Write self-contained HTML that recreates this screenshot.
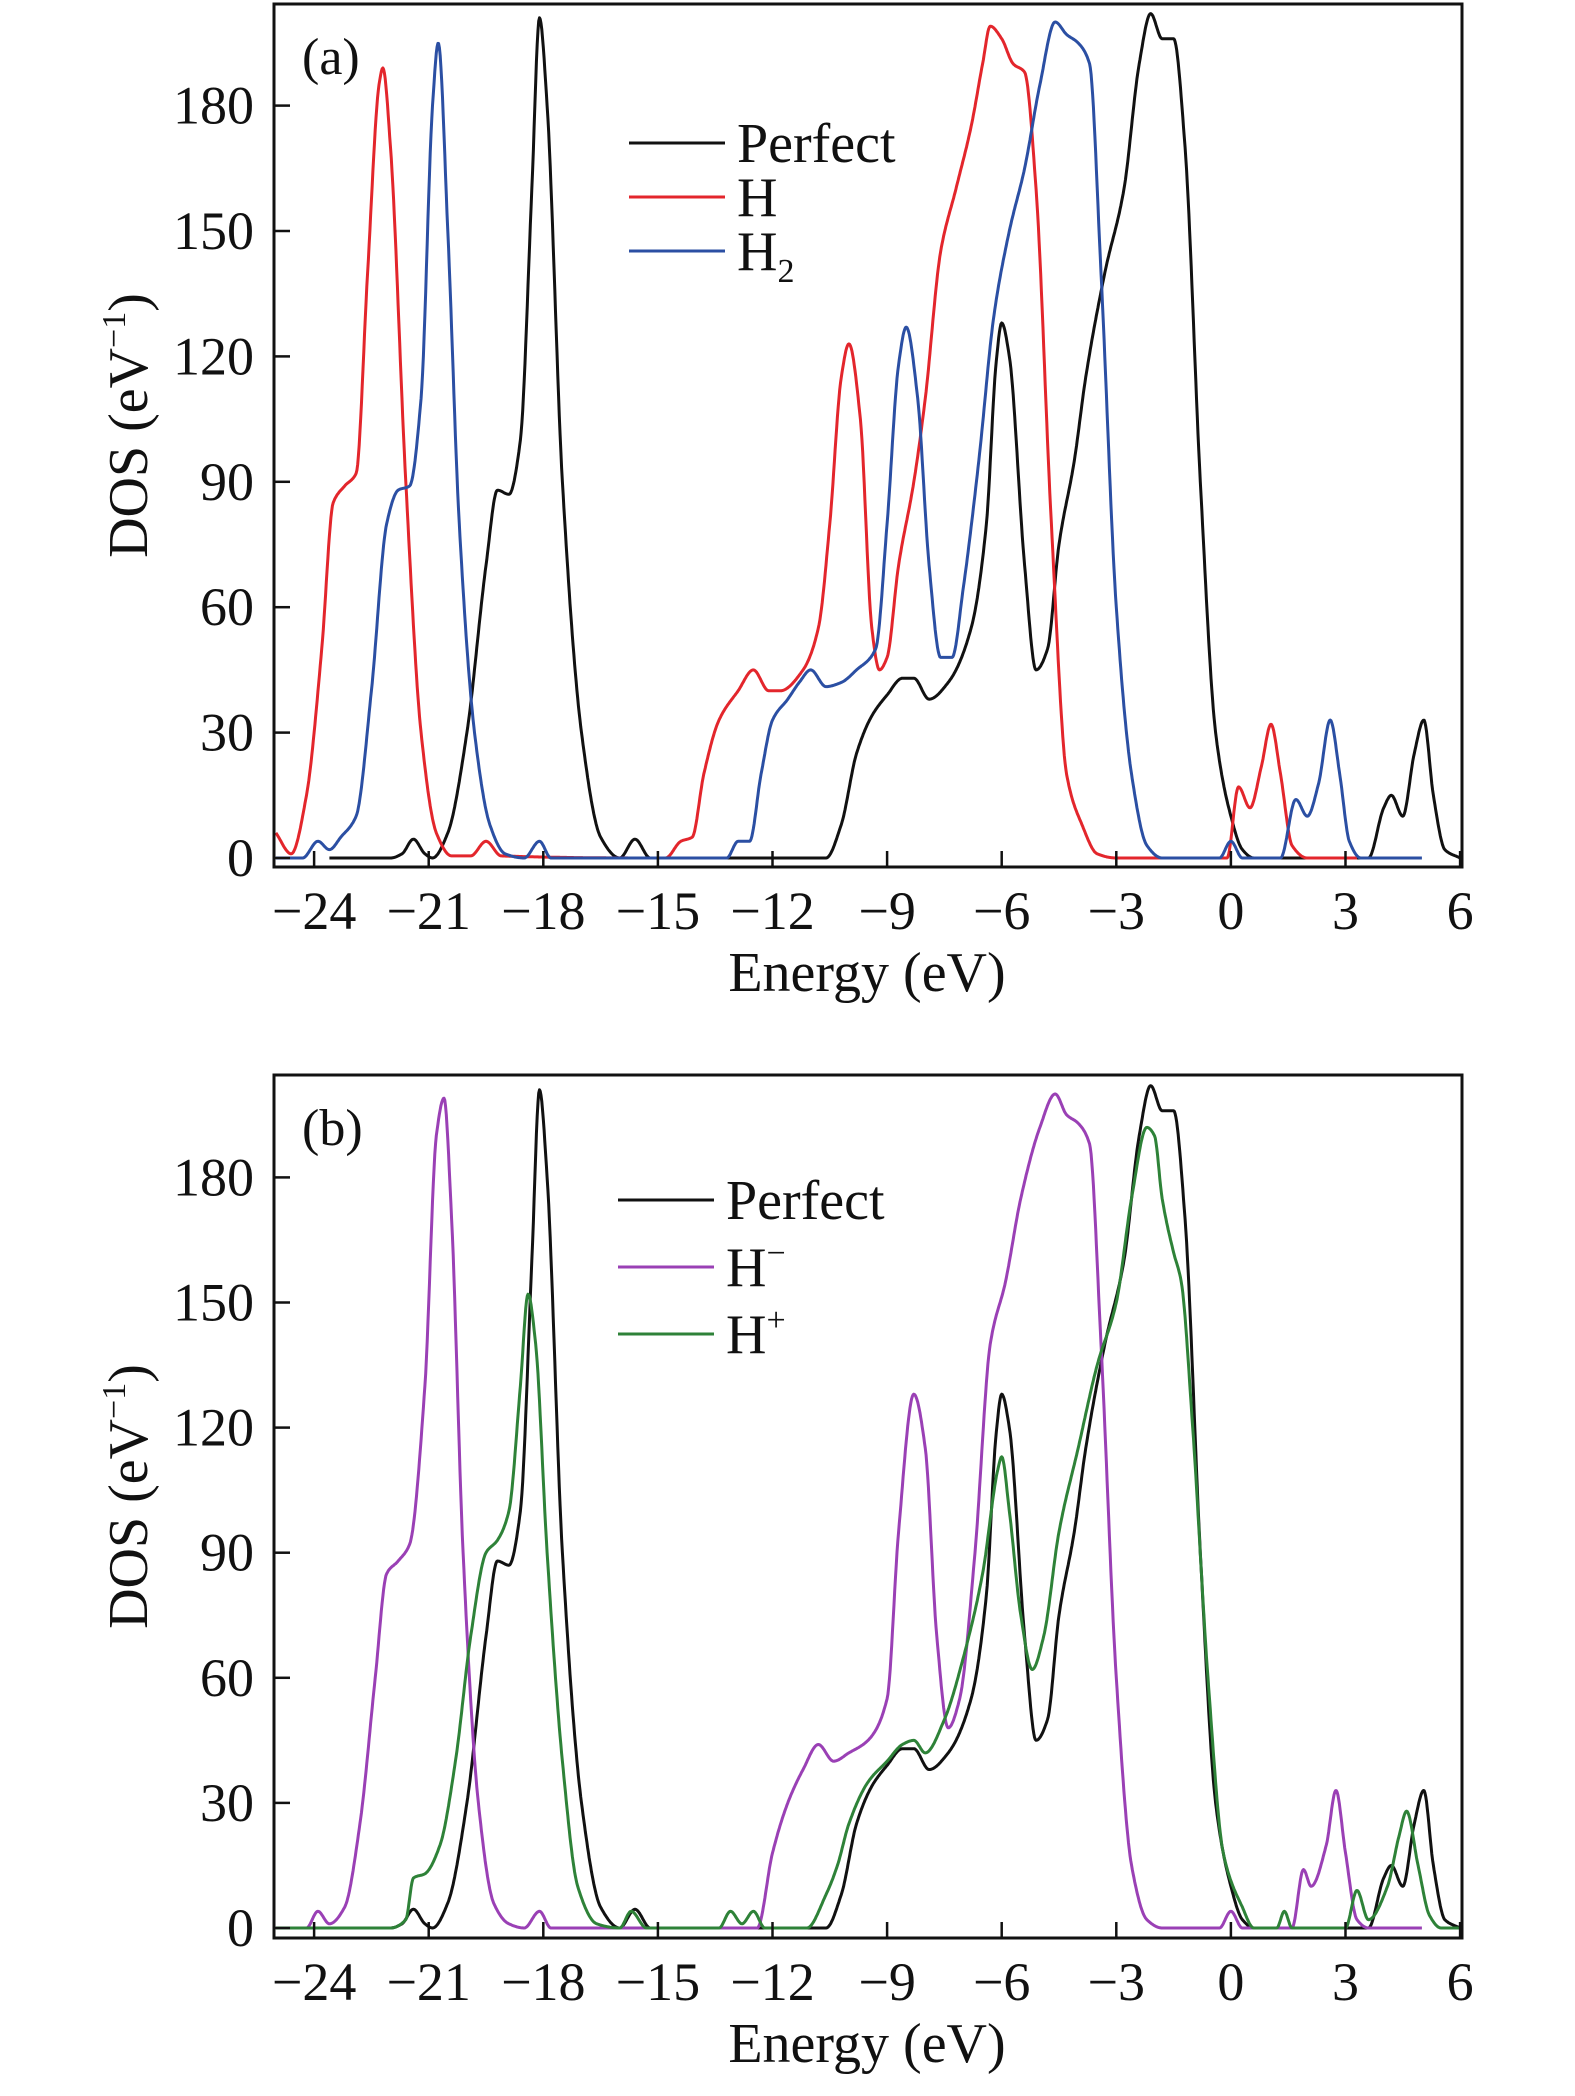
<!DOCTYPE html>
<html><head><meta charset="utf-8"><style>
html,body{margin:0;padding:0;background:#fff;}
svg{display:block;font-family:"Liberation Serif",serif;}
</style></head><body>
<svg id="chart" width="1575" height="2096" viewBox="0 0 1575 2096" xmlns="http://www.w3.org/2000/svg"></svg>
<script>
const xTicks=[-24,-21,-18,-15,-12,-9,-6,-3,0,3,6];
const xTickLabels=["\u221224","\u221221","\u221218","\u221215","\u221212","\u22129","\u22126","\u22123","0","3","6"];
const yTicks=[0,30,60,90,120,150,180];
const yTickLabels=["0","30","60","90","120","150","180"];

const perfectE=[-23.6,-22,-21.7,-21.4,-21.1,-20.9,-20.5,-20,-19.5,-19.2,-18.9,-18.6,-18.3,-18.1,-17.9,-17.5,-17,-16.5,-16,-15.6,-15.2,-10.6,-10.2,-9.8,-9.4,-9,-8.6,-8.3,-7.9,-7.4,-6.8,-6.4,-6.15,-6,-5.8,-5.4,-5.1,-4.8,-4.5,-4.1,-3.8,-3.3,-2.8,-2.4,-2.1,-1.8,-1.5,-1.2,-0.8,-0.4,0,0.3,0.6,3.6,4,4.2,4.5,4.8,5.05,5.3,5.6,6];
const perfectD=[0,0,1,4.5,1,0,6,30,70,88,87,100,160,201,180,90,30,5,0,4.5,0,0,8,25,34,39,43,43,38,42,55,80,118,128,120,70,45,50,75,95,115,140,160,190,202,196,196,170,90,30,10,2,0,0,12,15,10,25,33,15,2,0];

const hE=[-25,-24.6,-24.2,-23.8,-23.5,-23.2,-22.9,-22.6,-22.3,-22.2,-22,-21.6,-21.2,-20.8,-20.4,-19.9,-19.5,-19.1,-14.8,-14.4,-14.1,-13.8,-13.4,-12.9,-12.5,-12.1,-11.8,-11.2,-10.8,-10.5,-10.2,-10,-9.7,-9.4,-9.2,-9,-8.7,-8.3,-8,-7.6,-7.2,-6.8,-6.5,-6.3,-6,-5.7,-5.4,-5.1,-4.7,-4.3,-3.9,-3.5,-3,-0.1,0.2,0.5,0.8,1.05,1.3,1.6,2,3.3];
const hD=[6,1,15,50,85,89,92,140,185,189,170,90,30,6,0.5,0.5,4,0.5,0,4,5,20,33,40,45,40,40,45,55,80,115,123,105,55,45,48,70,90,110,145,160,175,190,199,196,190,188,160,80,20,8,1,0,0,17,12,22,32,20,3,0,0];

const h2E=[-25,-24.3,-23.9,-23.6,-23.3,-22.9,-22.5,-22.1,-21.8,-21.5,-21.2,-20.9,-20.75,-20.5,-20.2,-19.8,-19.4,-19,-18.5,-18.1,-17.8,-13.2,-12.9,-12.6,-12.3,-12,-11.6,-11.3,-11,-10.6,-10.2,-9.8,-9.3,-9,-8.7,-8.5,-8.2,-7.9,-7.6,-7.3,-7,-6.6,-6.2,-5.8,-5.4,-5,-4.6,-4.3,-4,-3.7,-3.4,-3,-2.6,-2.2,-1.8,-0.3,0,0.3,1.3,1.7,2,2.3,2.6,2.85,3.1,3.4,5];
const h2D=[0,0,4,2,5,10,40,80,88,89,110,180,195,150,80,30,8,1,0,4,0,0,4,4,20,33,38,42,45,41,42,45,50,80,118,127,110,70,48,48,65,95,130,150,165,185,200,197,195,190,140,60,20,3,0,0,4,0,0,14,10,18,33,20,4,0,0];

const hmE=[-25,-24.2,-23.9,-23.6,-23.2,-22.8,-22.4,-22.1,-21.8,-21.5,-21.1,-20.8,-20.6,-20.4,-20.1,-19.7,-19.3,-18.9,-18.5,-18.1,-17.8,-12.4,-12,-11.6,-11.2,-10.8,-10.4,-10,-9.5,-9,-8.7,-8.3,-8,-7.7,-7.4,-7.1,-6.7,-6.3,-5.9,-5.5,-5,-4.6,-4.3,-4,-3.7,-3.4,-3,-2.6,-2.2,-1.8,-0.3,0,0.3,1.6,1.9,2.1,2.5,2.75,3,3.3,3.6,5];
const hmD=[0,0,4,1,5,25,60,85,88,92,130,190,199,170,90,30,6,1,0,4,0,0,18,30,38,44,40,42,45,55,95,128,115,70,48,55,90,140,155,175,192,200,195,193,188,140,60,15,2,0,0,4,0,0,14,10,20,33,18,2,0,0];

const hpE=[-25,-22,-21.6,-21.4,-21.1,-20.7,-20.3,-19.9,-19.5,-19.2,-18.9,-18.6,-18.4,-18.2,-17.9,-17.5,-17.1,-16.6,-16,-15.7,-15.3,-13.4,-13.1,-12.8,-12.5,-12.2,-11.1,-10.6,-10.3,-10,-9.5,-9,-8.6,-8.3,-8,-7.5,-7,-6.5,-6.1,-6,-5.8,-5.5,-5.2,-4.9,-4.5,-4,-3.5,-3,-2.6,-2.2,-2,-1.8,-1.5,-1.3,-1,-0.6,-0.2,0.3,0.6,1.2,1.4,1.6,3,3.3,3.6,4.1,4.4,4.6,4.9,5.2,5.5,6];
const hpD=[0,0,2,12,13,20,40,70,90,93,100,130,152,140,90,40,10,1,0,4,0,0,4,1,4,0,0,8,15,25,35,40,44,45,42,50,65,85,110,113,100,75,62,70,95,115,135,150,175,192,190,175,162,155,120,60,18,5,0,0,4,0,0,9,2,10,22,28,15,3,0,0];

const NS="http://www.w3.org/2000/svg";
const svg=document.getElementById('chart');
function mk(tag,attrs,parent){const e=document.createElementNS(NS,tag);for(const k in attrs)e.setAttribute(k,attrs[k]);(parent||svg).appendChild(e);return e;}

// monotone cubic (Fritsch-Carlson) interpolation
function monotone(xs,ys){
  const n=xs.length,dx=[],m=[],t=new Array(n);
  for(let i=0;i<n-1;i++){dx.push(xs[i+1]-xs[i]);m.push((ys[i+1]-ys[i])/dx[i]);}
  t[0]=m[0];t[n-1]=m[n-2];
  for(let i=1;i<n-1;i++){
    if(m[i-1]*m[i]<=0)t[i]=0;
    else{const w1=2*dx[i]+dx[i-1],w2=dx[i]+2*dx[i-1];t[i]=(w1+w2)/(w1/m[i-1]+w2/m[i]);}
  }
  return function(x){
    let i=0;while(i<n-2&&x>xs[i+1])i++;
    const h=dx[i],s=(x-xs[i])/h,s2=s*s,s3=s2*s;
    return (2*s3-3*s2+1)*ys[i]+(s3-2*s2+s)*h*t[i]+(-2*s3+3*s2)*ys[i+1]+(s3-s2)*h*t[i+1];
  };
}

function panel(cfg){
  const X0=274,X1=1462,xmin=-25.05,xmax=6.05;
  const sx=v=>X0+(v-xmin)/(xmax-xmin)*(X1-X0);
  const sy=v=>cfg.zeroY-v*cfg.pxPer;
  const g=mk('g',{});
  
  
  cfg.series.forEach(s=>{
    const f=monotone(s.e,s.d);
    const a=s.e[0],b=s.e[s.e.length-1];
    let d='';
    for(let x=a;x<=b+1e-9;x+=0.02){
      d+=(d?' L':'M')+sx(x).toFixed(1)+','+sy(f(x)).toFixed(1);
    }
    const p=mk('path',{d:d,fill:'none',stroke:s.color,'stroke-width':3,'stroke-linejoin':'round'},g);
    
    
  });
  const fr=mk('rect',{x:X0,y:cfg.top,width:X1-X0,height:cfg.bottom-cfg.top,fill:'none',stroke:'#111','stroke-width':3},g);
  
  
  xTicks.forEach((t,i)=>{
    mk('line',{x1:sx(t),x2:sx(t),y1:cfg.bottom,y2:cfg.bottom-16,stroke:'#111','stroke-width':2.5},g);
    const tx=mk('text',{x:sx(t),y:cfg.bottom+62,'font-size':54,'text-anchor':'middle',fill:'#111'},g);
    tx.textContent=xTickLabels[i];
    
    
  });
  yTicks.forEach((t,i)=>{
    mk('line',{x1:X0,x2:X0+16,y1:sy(t),y2:sy(t),stroke:'#111','stroke-width':2.5},g);
    const tx=mk('text',{x:X0-20,y:sy(t)+18,'font-size':54,'text-anchor':'end',fill:'#111'},g);
    tx.textContent=yTickLabels[i];
    
    
  });
  const xl=mk('text',{x:867,y:cfg.bottom+124,'font-size':56,'text-anchor':'middle',fill:'#111'},g);
  xl.textContent='Energy (eV)';
  
  
  const yc=(cfg.top+cfg.bottom)/2-10;
  const yl=mk('text',{x:0,y:0,'font-size':56,'text-anchor':'middle',fill:'#111',transform:'translate(147,'+yc+') rotate(-90)'},g);
  yl.innerHTML='DOS (eV<tspan font-size="34" dy="-22">\u22121</tspan><tspan dy="22">)</tspan>';
  
  
  const pl=mk('text',{x:302,y:cfg.top+70,'font-size':52,fill:'#111'},g);
  pl.textContent=cfg.label;
  
  
  cfg.series.forEach((s,i)=>{
    const y=cfg.legY+i*cfg.legGap;
    const lg=mk('g',{},g);
    
    
    mk('line',{x1:cfg.legX,x2:cfg.legX+96,y1:y,y2:y,stroke:s.color,'stroke-width':3},lg);
    const t=mk('text',{x:cfg.legX+108,y:y+19,'font-size':56,fill:'#111'},lg);
    t.innerHTML=s.html;
  });
}
const perfect={key:'perfect',e:perfectE,d:perfectD,color:'#111',html:'Perfect'};
panel({name:'panel-a',label:'(a)',top:4,bottom:867,zeroY:858,pxPer:4.18,legX:629,legY:143,legGap:54,
  series:[perfect,{key:'h',e:hE,d:hD,color:'#e3262c',html:'H'},{key:'h2',e:h2E,d:h2D,color:'#2b4fa3',html:'H<tspan font-size="34" dy="12">2</tspan>'}]});
panel({name:'panel-b',label:'(b)',top:1075,bottom:1938,zeroY:1928,pxPer:4.17,legX:618,legY:1200,legGap:67,
  series:[perfect,{key:'h-minus',e:hmE,d:hmD,color:'#9a40b5',html:'H<tspan font-size="34" dy="-22">\u2212</tspan>'},{key:'h-plus',e:hpE,d:hpD,color:'#2e8238',html:'H<tspan font-size="34" dy="-22">+</tspan>'}]});
</script>
</body></html>
